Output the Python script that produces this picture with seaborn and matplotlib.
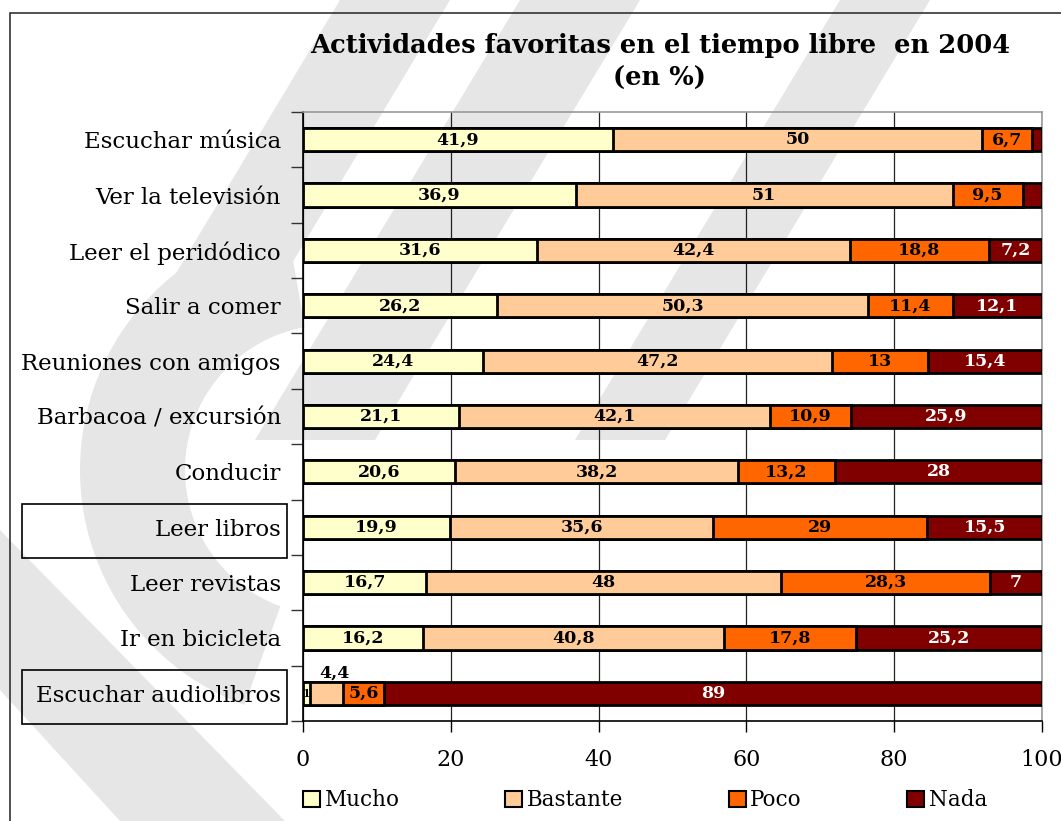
import pandas as pd
import matplotlib.pyplot as plt
import seaborn as sns
from matplotlib.patches import Patch, Rectangle, Polygon, Wedge
from matplotlib.transforms import IdentityTransform


# datos
actividades = [
    "Escuchar música",
    "Ver la televisión",
    "Leer el peridódico",
    "Salir a comer",
    "Reuniones con amigos",
    "Barbacoa / excursión",
    "Conducir",
    "Leer libros",
    "Leer revistas",
    "Ir en bicicleta",
    "Escuchar audiolibros",
]

mucho = [41.9, 36.9, 31.6, 26.2, 24.4, 21.1, 20.6, 19.9, 16.7, 16.2, 1]
bastante = [50, 51, 42.4, 50.3, 47.2, 42.1, 38.2, 35.6, 48, 40.8, 4.4]
poco = [6.7, 9.5, 18.8, 11.4, 13, 10.9, 13.2, 29, 28.3, 17.8, 5.6]
nada = [1.4, 2.6, 7.2, 12.1, 15.4, 25.9, 28, 15.5, 7, 25.2, 89]

niveles = ["Mucho", "Bastante", "Poco", "Nada"]
colores = ["#FFFFCC", "#FFCC99", "#FF6600", "#800000"]

destacadas = ["Leer libros", "Escuchar audiolibros"]


df = pd.DataFrame({
    "actividad": actividades,
    "Mucho": mucho,
    "Bastante": bastante,
    "Poco": poco,
    "Nada": nada,
})

# acumulados para apilar
acum = df[niveles].cumsum(axis=1)


sns.set_theme(style="white")
plt.rcParams["font.family"] = ["DejaVu Serif", "DejaVu Sans"]
plt.rcParams["text.color"] = "black"
plt.rcParams["xtick.color"] = "black"
plt.rcParams["ytick.color"] = "black"
plt.rcParams["axes.labelcolor"] = "black"

W, H = 1061, 821
fig = plt.figure(figsize=(W / 100, H / 100), dpi=100)
ax = fig.add_axes([0.2856, 0.1218, 0.6965, 0.7418])
ax.patch.set_alpha(0)


# marca de agua de fondo (aproximada, en pixeles desde arriba a la izquierda)
gris = "#e6e6e6"
franjas = [
    [(340, 0), (450, 0), (270, 300), (160, 300)],
    [(520, 0), (640, 0), (375, 440), (255, 440)],
    [(840, 0), (930, 0), (665, 440), (575, 440)],
    [(0, 530), (0, 690), (120, 821), (285, 821)],
]
for pts in franjas:
    fig.patches.append(Polygon(
        [(x / W, 1 - y / H) for x, y in pts],
        closed=True, transform=fig.transFigure,
        facecolor=gris, edgecolor="none", zorder=-2
    ))
fig.patches.append(Wedge(
    (330, H - 470), 250, 100, 250, width=105,
    transform=IdentityTransform(),
    facecolor=gris, edgecolor="none", zorder=-2
))

# marco exterior
fig.patches.append(Rectangle(
    (10 / W, -0.1), 1.2, (H - 13) / H + 0.1,
    transform=fig.transFigure, fill=False,
    edgecolor="#333333", linewidth=1.2, zorder=0
))


# barras apiladas (de la mas larga a la mas corta)
for nivel, color in reversed(list(zip(niveles, colores))):
    sns.barplot(
        x=acum[nivel],
        y=df["actividad"],
        orient="h",
        color=color,
        saturation=1,
        width=0.42,
        edgecolor="black",
        linewidth=2,
        ax=ax,
        zorder=3,
    )


def fmt(v):
    return f"{v:g}".replace(".", ",")


# etiquetas de valores
for i, act in enumerate(actividades):
    inicio = 0
    for nivel in niveles:
        v = df.loc[i, nivel]
        centro = inicio + v / 2
        inicio += v
        color_txt = "white" if nivel == "Nada" else "black"
        if v < 3:
            if act == "Escuchar audiolibros" and nivel == "Mucho":
                ax.text(centro, i, fmt(v), ha="center", va="center",
                        fontsize=8, fontweight="bold", zorder=5)
            continue
        if act == "Escuchar audiolibros" and nivel == "Bastante":
            ax.text(centro + 1, i - 0.36, fmt(v), ha="center", va="center",
                    fontsize=12.5, fontweight="bold", zorder=5)
            continue
        ax.text(centro, i, fmt(v), ha="center", va="center",
                fontsize=12.5, fontweight="bold", color=color_txt, zorder=5)


# ejes
ax.set_xlim(0, 100)
ax.set_ylim(len(actividades) - 0.5, -0.5)
ax.set_xticks([0, 20, 40, 60, 80, 100])
ax.set_xticklabels(["0", "20", "40", "60", "80", "100"])
ax.set_yticks(range(len(actividades)))
ax.set_yticklabels(actividades)
ax.set_yticks([i - 0.5 for i in range(len(actividades) + 1)], minor=True)
ax.set_xlabel("")
ax.set_ylabel("")

ax.tick_params(axis="y", which="major", length=0, pad=16, labelsize=16.5)
ax.tick_params(axis="y", which="minor", length=9, width=1, color="#333333",
               direction="out", left=True)
ax.tick_params(axis="x", which="major", length=8, width=1, color="black",
               direction="out", bottom=True, pad=12, labelsize=16)

ax.xaxis.grid(True, color="#222222", linewidth=0.9)
ax.yaxis.grid(False)
ax.set_axisbelow(True)

for lado in ["top", "right"]:
    ax.spines[lado].set_color("#999999")
    ax.spines[lado].set_linewidth(1.2)
for lado in ["left", "bottom"]:
    ax.spines[lado].set_color("black")
    ax.spines[lado].set_linewidth(1.2)


# recuadros en etiquetas destacadas
for act in destacadas:
    i = actividades.index(act)
    y_pix = ax.transData.transform((0, i))[1]
    alto = 54 / H
    fig.patches.append(Rectangle(
        (22 / W, y_pix / H - alto / 2 - 4 / H), 265 / W, alto,
        transform=fig.transFigure, fill=False,
        edgecolor="black", linewidth=1.2, zorder=1
    ))


# titulo
fig.text(0.622, 0.945, "Actividades favoritas en el tiempo libre  en 2004",
         ha="center", va="center", fontsize=18.5, fontweight="bold")
fig.text(0.622, 0.905, "(en %)", ha="center", va="center",
         fontsize=18.5, fontweight="bold")


# leyenda
handles = [
    Patch(facecolor=c, edgecolor="black", linewidth=1.5, label=n)
    for n, c in zip(niveles, colores)
]
fig.legend(
    handles=handles,
    loc="center",
    bbox_to_anchor=(0.608, 0.025),
    ncol=4,
    frameon=False,
    fontsize=15.5,
    handlelength=0.8,
    handleheight=0.8,
    handletextpad=0.2,
    columnspacing=4.9,
)


plt.savefig("out.png", dpi=100)
plt.close()
